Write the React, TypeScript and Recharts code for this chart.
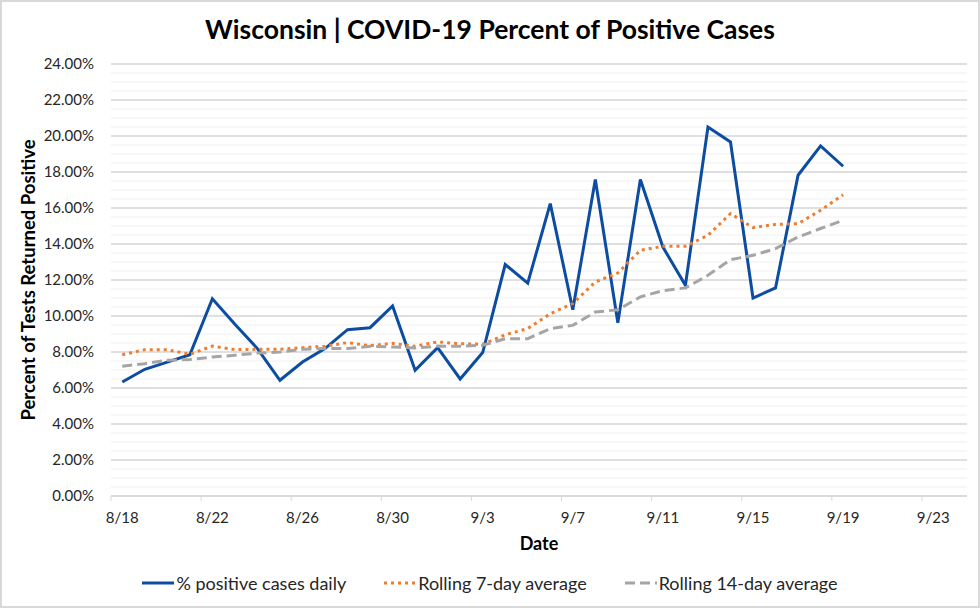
import { LineChart, Line, XAxis, YAxis, CartesianGrid, Legend } from 'recharts';

// one row per day, 8/18 .. 9/19
const dates = [
  '8/18', '8/19', '8/20', '8/21', '8/22', '8/23', '8/24', '8/25', '8/26', '8/27', '8/28',
  '8/29', '8/30', '8/31', '9/1', '9/2', '9/3', '9/4', '9/5', '9/6', '9/7', '9/8',
  '9/9', '9/10', '9/11', '9/12', '9/13', '9/14', '9/15', '9/16', '9/17', '9/18', '9/19',
];

const daily = [
  6.33, 7.04, 7.44, 7.85, 10.96, 9.54, 8.19, 6.43, 7.44, 8.19, 9.24,
  9.35, 10.56, 6.98, 8.24, 6.5, 7.97, 12.86, 11.83, 16.24, 10.35, 17.58,
  9.63, 17.58, 13.83, 11.71, 20.5, 19.67, 11.0, 11.56, 17.82, 19.45, 18.32,
];

const rolling7 = [
  7.85, 8.13, 8.13, 7.87, 8.33, 8.13, 8.15, 8.15, 8.24, 8.32, 8.52,
  8.35, 8.48, 8.32, 8.56, 8.46, 8.43, 8.96, 9.3, 10.13, 10.69, 11.89,
  12.39, 13.65, 13.87, 13.87, 14.48, 15.69, 14.91, 15.09, 15.13, 15.87, 16.74,
];

const rolling14 = [
  7.21, 7.35, 7.54, 7.58, 7.72, 7.82, 7.94, 8.0, 8.15, 8.2, 8.19,
  8.32, 8.28, 8.22, 8.33, 8.32, 8.37, 8.74, 8.74, 9.3, 9.48, 10.22,
  10.35, 11.06, 11.41, 11.56, 12.26, 13.13, 13.37, 13.74, 14.39, 14.86, 15.32,
];

const tickDays = [0, 4, 8, 12, 16, 20, 24, 28, 32, 36];
const tickLabels = ['8/18', '8/22', '8/26', '8/30', '9/3', '9/7', '9/11', '9/15', '9/19', '9/23'];
const yTicks = [0, 2, 4, 6, 8, 10, 12, 14, 16, 18, 20, 22, 24];

const data = dates.map((date, i) => ({
  day: i,
  date,
  daily: daily[i],
  r7: rolling7[i],
  r14: rolling14[i],
}));

// labels sit in the middle of each day, tick marks on the day boundaries
const xTicks = [...tickDays.map((d) => d - 0.5), ...tickDays].sort((a, b) => a - b);
const minorGrid = Array.from({ length: 49 }, (_, i) => i * 0.5);

const BLUE = '#0c4da2';
const ORANGE = '#ed7d31';
const GRAY = '#a5a5a5';
const TEXT = '#262626';

const XTick = (props: any) => {
  const { x, y, payload } = props;
  const v = payload.value;
  if (Number.isInteger(v)) {
    return (
      <text x={x} y={y + 27} textAnchor="middle" fontSize={15} fill={TEXT}>
        {tickLabels[tickDays.indexOf(v)]}
      </text>
    );
  }
  return <line x1={x} x2={x} y1={y} y2={y + 5} stroke="#d9d9d9" strokeWidth={1} />;
};

const legendItems = [
  { name: '% positive cases daily', color: BLUE, dash: undefined },
  { name: 'Rolling 7-day average', color: ORANGE, dash: '3 4' },
  { name: 'Rolling 14-day average', color: GRAY, dash: '10 5' },
];

const renderLegend = () => (
  <div
    style={{
      display: 'flex',
      justifyContent: 'center',
      alignItems: 'center',
      gap: 38,
      height: 24,
      fontSize: 18,
      color: TEXT,
    }}
  >
    {legendItems.map((item) => (
      <div key={item.name} style={{ display: 'flex', alignItems: 'center' }}>
        <svg width={32} height={10} style={{ marginRight: 2 }}>
          <line x1={0} x2={32} y1={5} y2={5} stroke={item.color} strokeWidth={3} strokeDasharray={item.dash} />
        </svg>
        <span>{item.name}</span>
      </div>
    ))}
  </div>
);

export default function App() {
  return (
    <div
      style={{
        position: 'absolute',
        left: 0,
        top: 0,
        width: 980,
        height: 608,
        background: '#fff',
        boxShadow: 'inset 0 0 0 2px #d9d9d9',
        fontFamily: 'Lato, "Open Sans", sans-serif',
      }}
    >
      <LineChart width={980} height={608} data={data} margin={{ top: 64, right: 13, left: 0, bottom: 28 }}>
        <CartesianGrid vertical={false} horizontalValues={minorGrid} stroke="#efefef" strokeWidth={1} />
        <CartesianGrid vertical={false} horizontalValues={yTicks} stroke="#d9d9d9" strokeWidth={1.3} />
        <XAxis
          type="number"
          dataKey="day"
          domain={[-0.5, 37.5]}
          ticks={xTicks}
          interval={0}
          tick={<XTick />}
          tickLine={false}
          tickSize={0}
          tickMargin={0}
          axisLine={{ stroke: '#d9d9d9', strokeWidth: 1.3 }}
          height={60}
        />
        <YAxis
          domain={[0, 24]}
          ticks={yTicks}
          interval={0}
          width={111}
          axisLine={false}
          tickLine={false}
          tickSize={0}
          tickMargin={17}
          tickFormatter={(v: number) => `${v.toFixed(2)}%`}
          tick={{ fontSize: 15, fill: TEXT }}
        />
        <Legend
          verticalAlign="bottom"
          content={renderLegend}
          wrapperStyle={{ top: 571, left: 0, width: 980, bottom: 'auto', height: 24 }}
        />
        <Line
          type="linear"
          dataKey="daily"
          name="% positive cases daily"
          stroke={BLUE}
          strokeWidth={3}
          dot={false}
          isAnimationActive={false}
        />
        <Line
          type="linear"
          dataKey="r7"
          name="Rolling 7-day average"
          stroke={ORANGE}
          strokeWidth={3}
          strokeDasharray="3 4"
          dot={false}
          isAnimationActive={false}
        />
        <Line
          type="linear"
          dataKey="r14"
          name="Rolling 14-day average"
          stroke={GRAY}
          strokeWidth={3}
          strokeDasharray="10 5"
          dot={false}
          isAnimationActive={false}
        />
        <text x={490} y={39} textAnchor="middle" fontSize={26.5} fontWeight={700} fill="#000">
          Wisconsin | COVID-19 Percent of Positive Cases
        </text>
        <text transform="translate(35,280) rotate(-90)" textAnchor="middle" fontSize={18.5} fontWeight={700} fill="#000">
          Percent of Tests Returned Positive
        </text>
        <text x={539} y={550} textAnchor="middle" fontSize={18} fontWeight={700} fill="#000">
          Date
        </text>
      </LineChart>
    </div>
  );
}
